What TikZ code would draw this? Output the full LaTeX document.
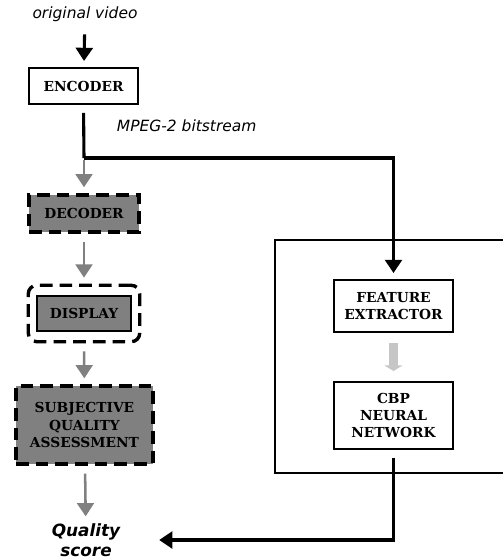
\documentclass[tikz,border=0pt]{standalone}
\usepackage{fontspec}
\usetikzlibrary{arrows.meta,fit}
\newfontfamily\boxfont{DejaVu Serif}
\newfontfamily\labfont{DejaVu Sans}
\tikzset{
    BX1/.style ={rectangle, draw, line width=1.4pt, fill=white, align=center, font=\boxfont\bfseries\fontsize{9.8}{12.4}\selectfont},
    BX2/.style ={BX1, fill=gray, dash pattern=on 9pt off 5pt, line width=2.4pt},
    BX3/.style ={rectangle, draw, line width=2.4pt, dash pattern=on 9pt off 5pt, rounded corners=6pt},
    LB/.style ={font=\labfont\itshape\fontsize{11}{13}\selectfont},
    BA/.style ={line width=2.2pt, -{Triangle[length=0.33cm,width=0.42cm]}, shorten <=0.2cm, shorten >=0.15cm},
    GA/.style ={BA, draw=gray, line width=1.8pt},
    LA/.style ={draw=gray!45, line width=0.22cm, -{Triangle[length=0.14cm,width=0.45cm]}, shorten <=0.25cm, shorten >=0.25cm}}

\begin{document}
\begin{tikzpicture}[x=0.025cm, y=-0.025cm]
        \useasboundingbox (0,0) rectangle (502,560);
        \node[LB] (8) at(85,14){original video};
        \node[BX1, minimum width=109*0.025cm, minimum height=36*0.025cm] (1) at(83.5,86){ENCODER};
        \node[BX2, minimum width=110*0.025cm, minimum height=37*0.025cm] (2) at(84,213.5){DECODER};
        \node[BX1, fill=gray, line width=1pt, minimum width=94*0.025cm, minimum height=35*0.025cm] (3) at(84,313.5){DISPLAY};
        \node[BX3, fit=(3), inner xsep=0.2cm, inner ysep=0.25cm] (3b) {};
        \node[BX2, minimum width=137*0.025cm, minimum height=78*0.025cm] (4) at(84.5,425){SUBJECTIVE\\QUALITY\\ASSESSMENT};
        \node[BX1, minimum width=119*0.025cm, minimum height=52*0.025cm] (5) at(393.5,306){FEATURE\\EXTRACTOR};
        \node[BX1, minimum width=119*0.025cm, minimum height=67*0.025cm] (6) at(393.5,415.5){CBP\\NEURAL\\NETWORK};
        \node[font=\labfont\bfseries\itshape\fontsize{12}{14.5}\selectfont, align=center] (7) at(86,540){Quality\\score};
        \node[LB, anchor=west] (9) at(112,126){MPEG-2 bitstream};
        \coordinate (c1) at(84,158);
        % box frame, open to the right
        \draw[line width=1.4pt] (505,240) -- (275,240) -- (275,473) -- (505,473);
        \draw[BA] (8) -- (1);
        \draw[line width=2.2pt, shorten <=0.2cm] (1.south) -- (c1);
        \draw[BA, shorten <=0pt] (c1) -| (5.north);
        \draw[GA, shorten <=0.05cm] (c1) -- (2);
        \draw[GA] (2) -- (3b);
        \draw[GA] (3b) -- (4);
        \draw[GA, shorten >=0.05cm] (4) -- (7);
        \draw[LA] (5) -- (6);
        \draw[BA, shorten >=0.85cm] (6.south) |- (7.east);
    \end{tikzpicture}
\end{document}
